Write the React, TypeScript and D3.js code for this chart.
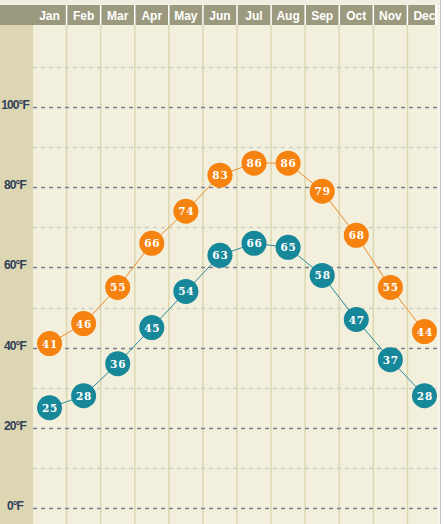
import * as React from 'react';
import * as d3 from 'd3';

const MONTHS = ['Jan', 'Feb', 'Mar', 'Apr', 'May', 'Jun', 'Jul', 'Aug', 'Sep', 'Oct', 'Nov', 'Dec'];
const HIGHS = [41, 46, 55, 66, 74, 83, 86, 86, 79, 68, 55, 44];
const LOWS = [25, 28, 36, 45, 54, 63, 66, 65, 58, 47, 37, 28];
const MAJOR_TICKS = [0, 20, 40, 60, 80, 100];
const MINOR_TICKS = [10, 30, 50, 70, 90, 110];

const W = 445;
const H = 524;
const PLOT_LEFT = 33;
const PLOT_RIGHT = 437;
const HEADER_TOP = 5;
const HEADER_BOTTOM = 25;

const COLORS = {
  header: '#9c9a7e',
  leftCol: '#ddd6b3',
  plot: '#f2efdd',
  colLine: '#dcd8b0',
  major: '#7b7f8e',
  minor: '#cfcdc2',
  high: '#f6820f',
  highLine: '#ef8b2a',
  low: '#17879a',
  lowLine: '#2a8c98',
  yLabel: '#2f4057',
};

export default function App() {
  const x = d3.scaleBand<string>().domain(MONTHS).range([32.5, 441.5]).padding(0);
  const y = d3.scaleLinear().domain([0, 100]).range([508, 107]);
  const cx = (m: string) => (x(m) ?? 0) + x.bandwidth() / 2;

  const line = d3
    .line<number>()
    .x((_, i) => cx(MONTHS[i]))
    .y((d) => y(d));

  const series = [
    { values: HIGHS, fill: COLORS.high, stroke: COLORS.highLine },
    { values: LOWS, fill: COLORS.low, stroke: COLORS.lowLine },
  ];

  return (
    <div style={{ position: 'fixed', left: 0, top: 0 }}>
      <style>{'body{margin:0}'}</style>
      <svg width={W} height={H} style={{ display: 'block' }}>
        <defs>
          <clipPath id="plot-clip">
            <rect x={PLOT_LEFT} y={HEADER_BOTTOM} width={PLOT_RIGHT - PLOT_LEFT} height={H - HEADER_BOTTOM} />
          </clipPath>
        </defs>
        <rect x={0} y={0} width={W} height={H} fill="#ffffff" />
        <rect x={0} y={0} width={PLOT_RIGHT + 3} height={HEADER_TOP} fill="#f1efe3" />
        <rect x={PLOT_RIGHT} y={HEADER_TOP} width={3} height={H} fill="#f6f4ea" />
        <line x1={440.5} x2={440.5} y1={0} y2={H} stroke="#c4c4c0" strokeWidth={1} />

        {/* header band */}
        <rect x={0} y={HEADER_TOP} width={435} height={HEADER_BOTTOM - HEADER_TOP} fill={COLORS.header} />
        {MONTHS.map((m) => (
          <text
            key={m}
            x={cx(m)}
            y={19.5}
            textAnchor="middle"
            fill="#ffffff"
            fontFamily="Arial, 'Liberation Sans', sans-serif"
            fontWeight="bold"
            fontSize={12}
          >
            {m}
          </text>
        ))}
        {MONTHS.slice(1).map((m) => (
          <line
            key={m}
            x1={x(m)}
            x2={x(m)}
            y1={HEADER_TOP}
            y2={HEADER_BOTTOM}
            stroke="#ffffff"
            strokeWidth={1.5}
          />
        ))}

        {/* left label column and plot background */}
        <rect x={0} y={HEADER_BOTTOM} width={PLOT_LEFT} height={H - HEADER_BOTTOM} fill={COLORS.leftCol} />
        <rect
          x={PLOT_LEFT}
          y={HEADER_BOTTOM}
          width={PLOT_RIGHT - PLOT_LEFT}
          height={H - HEADER_BOTTOM}
          fill={COLORS.plot}
        />

        {/* column separators */}
        {MONTHS.slice(1).map((m) => (
          <line
            key={m}
            x1={x(m)}
            x2={x(m)}
            y1={HEADER_BOTTOM}
            y2={H}
            stroke={COLORS.colLine}
            strokeWidth={1.5}
          />
        ))}

        {/* grid */}
        {MINOR_TICKS.map((t) => (
          <line
            key={t}
            x1={PLOT_LEFT}
            x2={PLOT_RIGHT}
            y1={Math.round(y(t)) + 0.5}
            y2={Math.round(y(t)) + 0.5}
            stroke={COLORS.minor}
            strokeWidth={1.5}
            strokeDasharray="4 4"
          />
        ))}
        {MAJOR_TICKS.map((t) => (
          <line
            key={t}
            x1={PLOT_LEFT}
            x2={PLOT_RIGHT}
            y1={Math.round(y(t)) + 0.5}
            y2={Math.round(y(t)) + 0.5}
            stroke={COLORS.major}
            strokeWidth={1.5}
            strokeDasharray="4 4"
          />
        ))}
        {MAJOR_TICKS.map((t) => (
          <text
            key={t}
            x={15}
            y={y(t) + 2}
            textAnchor="middle"
            fill={COLORS.yLabel}
            fontFamily="Arial, 'Liberation Sans', sans-serif"
            fontWeight="bold"
            fontSize={12}
            letterSpacing={-0.9}
          >
            {`${t}°F`}
          </text>
        ))}

        {/* series */}
        <g clipPath="url(#plot-clip)">
          {series.map((s, si) => (
            <path key={si} d={line(s.values) ?? ''} fill="none" stroke={s.stroke} strokeWidth={1} />
          ))}
          {series.map((s, si) =>
            s.values.map((v, i) => (
              <g key={`${si}-${i}`}>
                <circle cx={cx(MONTHS[i])} cy={y(v)} r={12.5} fill={s.fill} />
                <text
                  x={cx(MONTHS[i]) + 0.5}
                  y={y(v) + 4}
                  textAnchor="middle"
                  fill="#ffffff"
                  fontFamily="'DejaVu Serif', Georgia, serif"
                  fontWeight="bold"
                  fontSize={10.5}
                  letterSpacing={0.8}
                >
                  {v}
                </text>
              </g>
            ))
          )}
        </g>
      </svg>
    </div>
  );
}
